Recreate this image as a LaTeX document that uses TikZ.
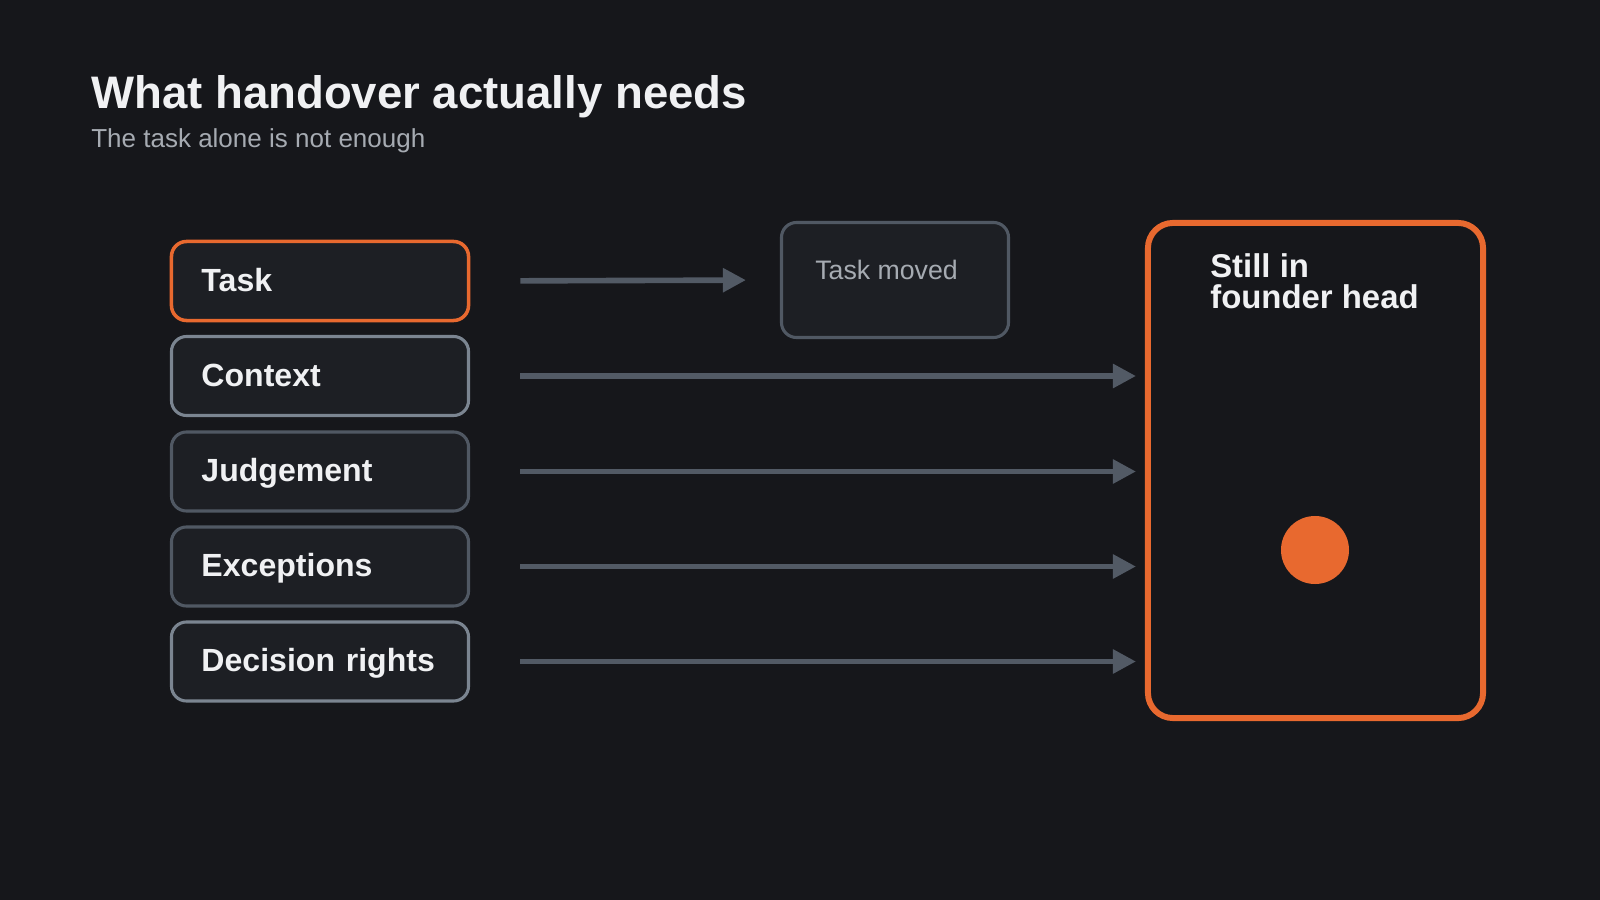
\documentclass[tikz,border=0pt]{standalone}
\usepackage{fontspec}
\setmainfont{Liberation Sans}
\usetikzlibrary{arrows.meta,positioning}
\definecolor{bgdark}{HTML}{16171B}
\definecolor{boxfill}{HTML}{1D1F24}
\definecolor{hoorange}{HTML}{E8692F}
\definecolor{rimlight}{HTML}{7B8591}
\definecolor{rimdark}{HTML}{505863}
\definecolor{arrowgray}{HTML}{525A65}
\definecolor{txtwhite}{HTML}{F0F1F3}
\definecolor{txtgray}{HTML}{A6ABB2}

\tikzset{
  item/.style={draw, fill=boxfill, rounded corners=0.375cm, line width=2.2pt,
    minimum height=1.975cm, text width=5.925cm, inner xsep=0.75cm, inner ysep=0pt,
    text=txtwhite, font=\fontsize{22.8}{26}\selectfont\bfseries,
    text height=1.52em, text depth=0.04em},
  flow/.style={draw=arrowgray, line width=4pt, -{Triangle[length=0.575cm,width=0.575cm]}},
}

\begin{document}
\begin{tikzpicture}[x=0.025cm,y=-0.025cm]
\fill[bgdark] (0,0) rectangle (1600,900);
\useasboundingbox (0,0) rectangle (1600,900);

% heading
\node[anchor=base west, inner sep=0, text=txtwhite, font=\fontsize{32.4}{36}\selectfont\bfseries] (title) at (91,108) {What handover actually needs};
\node[anchor=base west, inner sep=0, text=txtgray, font=\fontsize{18.5}{22}\selectfont] (subtitle) at (91,147) {The task alone is not enough};

% what is handed over
\node[item, draw=hoorange, line width=2.5pt] (task) at (320,281) {Task};
\node[item, draw=rimlight] (context) at (320,376) {Context};
\node[item, draw=rimdark] (judge) at (320,471.5) {Judgement};
\node[item, draw=rimdark] (except) at (320,566.5) {Exceptions};
\node[item, draw=rimlight] (rights) at (320,661.5) {Decision rights};

% where it ends up
\node[draw=rimdark, fill=boxfill, line width=2.2pt, rounded corners=0.375cm, minimum width=5.675cm, minimum height=2.875cm] (moved) at (895,280) {};
\node[anchor=base west, inner sep=0, text=txtgray, font=\fontsize{19}{22}\selectfont] (movedtxt) at (815,279) {Task moved};

\node[draw=hoorange, fill=bgdark, line width=4.25pt, rounded corners=0.625cm, minimum width=8.375cm, minimum height=12.375cm] (head) at (1315.5,470.5) {};
\node[anchor=north west, inner sep=0, align=left, text=txtwhite, font=\fontsize{23.4}{22.2}\selectfont\bfseries] (headtxt) at (1210,253) {Still in\\founder head};
\node[circle, fill=hoorange, minimum size=1.7cm, inner sep=0] (dot) at (1315,550) {};

\draw[flow, shorten <=1.25cm, shorten >=0.85cm] (task.east) -- (moved.west);
\draw[flow, shorten <=1.25cm, shorten >=0.225cm] (context.east) -- (context.east -| head.west);
\draw[flow, shorten <=1.25cm, shorten >=0.225cm] (judge.east) -- (judge.east -| head.west);
\draw[flow, shorten <=1.25cm, shorten >=0.225cm] (except.east) -- (except.east -| head.west);
\draw[flow, shorten <=1.25cm, shorten >=0.225cm] (rights.east) -- (rights.east -| head.west);
\end{tikzpicture}
\end{document}
